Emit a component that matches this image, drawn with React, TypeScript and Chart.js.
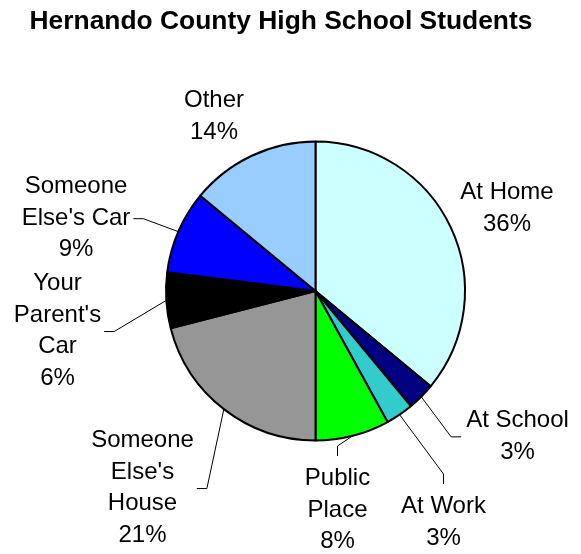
import React, { useEffect, useRef } from "react";
import { Chart, registerables } from "chart.js";

Chart.register(...registerables);

const titleText = "Hernando County High School Students";
const categories = [
  "At Home",
  "At School",
  "At Work",
  "Public Place",
  "Someone Else's House",
  "Your Parent's Car",
  "Someone Else's Car",
  "Other",
];
const values = [36, 3, 3, 8, 21, 6, 9, 14];
const sliceColors = ["#CCFFFF", "#000080", "#33CCCC", "#00FF00", "#969696", "#000000", "#0000FF", "#99CCFF"];
const labelLines = [
  ["At Home"],
  ["At School"],
  ["At Work"],
  ["Public", "Place"],
  ["Someone", "Else's", "House"],
  ["Your", "Parent's", "Car"],
  ["Someone", "Else's Car"],
  ["Other"],
];
// layout: offset of each label's first baseline (centre) from the pie centre
const labelOffsets = [
  [191.5, -92],
  [202, 136],
  [128, 222],
  [22, 194],
  [-173, 156],
  [-258, -1],
  [-239.5, -98],
  [-101.5, -184],
];
const leaderSides = ["none", "left", "top", "top", "right", "right", "right", "none"];

const FONT = '"Liberation Sans", Arial, sans-serif';

const labelPlugin = {
  id: "pieLabels",
  afterDraw(chart: any) {
    const ctx = chart.ctx as CanvasRenderingContext2D;
    const meta = chart.getDatasetMeta(0);
    const total = values.reduce((a, b) => a + b, 0);
    ctx.save();
    ctx.fillStyle = "#000";
    ctx.textAlign = "center";
    ctx.textBaseline = "alphabetic";
    ctx.font = `bold 26.4px ${FONT}`;
    ctx.fillText(titleText, 281, 28.5);

    ctx.font = `24px ${FONT}`;
    ctx.strokeStyle = "#000";
    ctx.lineWidth = 1;
    const lh = 31.7;
    meta.data.forEach((arc: any, i: number) => {
      const { x, y, startAngle, endAngle, outerRadius } = arc.getProps(
        ["x", "y", "startAngle", "endAngle", "outerRadius"],
        true
      );
      const lines = [...labelLines[i], Math.round((values[i] / total) * 100) + "%"];
      const cx = x + labelOffsets[i][0];
      const b0 = y + labelOffsets[i][1];
      lines.forEach((t, k) => ctx.fillText(t, cx, b0 + k * lh));
      const side = leaderSides[i];
      if (side === "none") return;
      const mid = (startAngle + endAngle) / 2;
      const sx = x + Math.cos(mid) * outerRadius;
      const sy = y + Math.sin(mid) * outerRadius;
      const w = Math.max(...lines.map((t) => ctx.measureText(t).width));
      const midY = b0 + ((lines.length - 1) * lh) / 2 - 6;
      let ex: number, ey: number, kx: number, ky: number;
      if (side === "right") {
        ex = cx + w / 2 + 3;
        ey = midY;
        kx = ex + 10;
        ky = ey;
      } else if (side === "left") {
        ex = cx - w / 2 - 5;
        ey = midY;
        kx = ex - 10;
        ky = ey;
      } else {
        ex = cx;
        ey = b0 - 29;
        kx = ex;
        ky = ey - 10;
      }
      ctx.beginPath();
      ctx.moveTo(sx, sy);
      ctx.lineTo(kx, ky);
      ctx.lineTo(ex, ey);
      ctx.stroke();
    });
    ctx.restore();
  },
};

export default function App() {
  const ref = useRef<HTMLCanvasElement | null>(null);
  useEffect(() => {
    if (!ref.current) return;
    const chart = new Chart(ref.current, {
      type: "pie",
      data: {
        labels: categories,
        datasets: [
          {
            data: values,
            backgroundColor: sliceColors,
            borderColor: "#000000",
            borderWidth: 2,
          },
        ],
      },
      options: {
        responsive: false,
        animation: false,
        devicePixelRatio: 1,
        radius: 149.5,
        layout: { padding: { left: 60, right: 10, top: 38, bottom: 10 } },
        plugins: {
          legend: { display: false },
          title: { display: false },
          tooltip: { enabled: false },
        },
        events: [],
      } as any,
      plugins: [labelPlugin],
    });
    return () => chart.destroy();
  }, []);
  return (
    <div style={{ position: "absolute", left: 0, top: 0, width: 581, height: 554, background: "#fff" }}>
      <canvas ref={ref} width={581} height={554} />
    </div>
  );
}
